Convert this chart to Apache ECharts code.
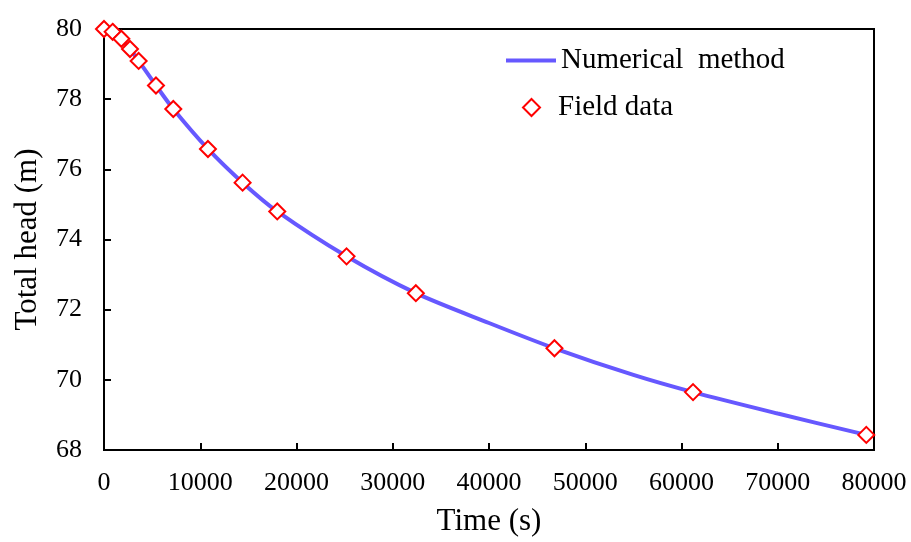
<!DOCTYPE html>
<html>
<head>
<meta charset="utf-8">
<script src="https://cdn.jsdelivr.net/npm/echarts@6/dist/echarts.min.js"></script>
<style>html,body{margin:0;padding:0;background:#fff;}#c{width:911px;height:542px;}</style>
</head>
<body>
<div id="c"></div>
<script>
// Field data (time in s, total head in m)
var fieldTime = [0, 900, 1800, 2700, 3600, 5400, 7200, 10800, 14400, 18000, 25200, 32400, 46800, 61200, 79200];
var fieldHead = [80.00, 79.92, 79.72, 79.43, 79.09, 78.39, 77.72, 76.58, 75.62, 74.80, 73.52, 72.47, 70.90, 69.65, 68.43];
// Numerical method curve
var numTime = [0, 900, 1800, 2700, 3600, 5400, 7200, 10800, 14400, 18000, 25200, 32400, 40000, 46800, 55000, 61200, 70000, 79200];
var numHead = [80.00, 79.92, 79.72, 79.43, 79.09, 78.39, 77.72, 76.58, 75.62, 74.80, 73.52, 72.47, 71.62, 70.90, 70.14, 69.65, 69.04, 68.43];
var seriesNames = ['Numerical  method', 'Field data'];

var font = 'Liberation Serif';
function pairs(xs, ys) { return xs.map(function (x, i) { return [x, ys[i]]; }); }

var chart = echarts.init(document.getElementById('c'), null, {renderer: 'canvas'});
chart.setOption({
  animation: false,
  backgroundColor: '#ffffff',
  grid: {left: 104, right: 37, top: 29, bottom: 89, show: true, borderColor: '#000', borderWidth: 2, backgroundColor: 'transparent'},
  legend: [
    {data: [{name: seriesNames[0], icon: 'rect'}], left: 501, top: 41, itemWidth: 50, itemHeight: 4,
     textStyle: {fontFamily: font, fontSize: 29, color: '#000'}},
    {data: [{name: seriesNames[1], icon: 'diamond'}], left: 517, top: 88, itemWidth: 17, itemHeight: 17,
     textStyle: {fontFamily: font, fontSize: 29, color: '#000', padding: [0, 0, 0, 13]}}
  ],
  xAxis: {
    type: 'value', min: 0, max: 80000, interval: 10000,
    name: 'Time (s)', nameLocation: 'middle', nameGap: 56,
    nameTextStyle: {fontFamily: font, fontSize: 31, color: '#000'},
    axisLine: {show: true, lineStyle: {color: '#000', width: 2}},
    axisTick: {show: true, inside: true, length: 7, lineStyle: {color: '#000', width: 2}},
    axisLabel: {fontFamily: font, fontSize: 26, color: '#000', margin: 20,
      formatter: function (v) { return String(v); }},
    splitLine: {show: false}
  },
  yAxis: {
    type: 'value', min: 68, max: 80, interval: 2,
    name: 'Total head (m)', nameLocation: 'middle', nameGap: 61,
    nameTextStyle: {fontFamily: font, fontSize: 31, color: '#000'},
    axisLine: {show: true, lineStyle: {color: '#000', width: 2}},
    axisTick: {show: true, inside: true, length: 7, lineStyle: {color: '#000', width: 2}},
    axisLabel: {fontFamily: font, fontSize: 26, color: '#000', margin: 22},
    splitLine: {show: false}
  },
  series: [
    {
      name: seriesNames[0], type: 'line', smooth: 0.3, showSymbol: false, symbol: 'none',
      data: pairs(numTime, numHead),
      lineStyle: {color: '#6658FF', width: 4}, itemStyle: {color: '#6658FF'}, z: 2
    },
    {
      name: seriesNames[1], type: 'scatter', symbol: 'diamond', symbolSize: 16, clip: false,
      data: pairs(fieldTime, fieldHead),
      itemStyle: {color: '#ffffff', borderColor: '#FF0000', borderWidth: 2, opacity: 1}, z: 3
    }
  ]
});
</script>
</body>
</html>
